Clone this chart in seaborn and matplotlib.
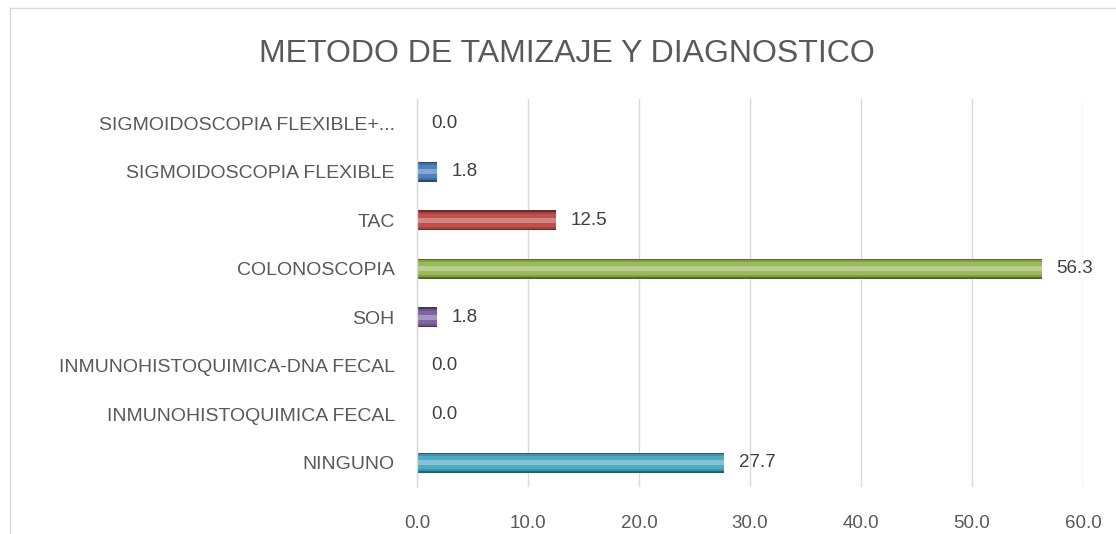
import matplotlib
matplotlib.use("Agg")
import matplotlib.pyplot as plt
import seaborn as sns
import pandas as pd
import numpy as np

categories = ["SIGMOIDOSCOPIA FLEXIBLE+...", "SIGMOIDOSCOPIA FLEXIBLE", "TAC", "COLONOSCOPIA",
              "SOH", "INMUNOHISTOQUIMICA-DNA FECAL", "INMUNOHISTOQUIMICA FECAL", "NINGUNO"]
values = [0.0, 1.8, 12.5, 56.3, 1.8, 0.0, 0.0, 27.7]
base_colors = ["#F79646", "#4F81BD", "#C0504D", "#9BBB59", "#8064A2", "#F79646", "#4BACC6", "#4BACC6"]
x_ticks = [0, 10, 20, 30, 40, 50, 60]

sns.set_theme(style="white")
plt.rcParams['font.family'] = ['Liberation Sans', 'DejaVu Sans']

df = pd.DataFrame({"cat": categories, "val": values})

def shade(c, f):
    rgb = np.array(matplotlib.colors.to_rgb(c))
    if f < 1:
        return tuple(rgb * f)
    return tuple(rgb + (1 - rgb) * (f - 1))

fig = plt.figure(figsize=(11.16, 5.34), dpi=100)
ax = fig.add_axes([417/1116, 1 - 487/534, (1083-417)/1116, (487-99)/534])

dark = [shade(c, 0.55) for c in base_colors]
mid = [shade(c, 0.85) for c in base_colors]
main = [shade(c, 1.0) for c in base_colors]
light = [shade(c, 1.3) for c in base_colors]

layers = [(dark, 0.42), (mid, 0.36), (main, 0.26), (light, 0.10)]
for pal, w in layers:
    sns.barplot(data=df, y="cat", x="val", hue="cat", palette=pal, width=w, legend=False, ax=ax,
                orient="h", saturation=1, linewidth=0, edgecolor="none")

ax.set_xlim(0, 60)
ax.set_xticks(x_ticks)
ax.set_xticklabels([f"{t:.1f}" for t in x_ticks], fontsize=13.5, color="#595959")
ax.tick_params(axis="x", length=0, pad=20)
ax.tick_params(axis="y", length=0, pad=16, labelsize=14, labelcolor="#595959")
ax.set_xlabel("")
ax.set_ylabel("")
ax.grid(axis="x", color="#D9D9D9", linewidth=1)
ax.set_axisbelow(True)
for s in ["top", "right", "bottom"]:
    ax.spines[s].set_visible(False)
ax.spines["left"].set_color("#D9D9D9")
ax.spines["left"].set_linewidth(1)

for i, v in enumerate(values):
    ax.text(v + 1.3, i, f"{v:.1f}", va="center", ha="left", fontsize=13.5, color="#404040")

fig.text(0.508, 1 - 54/534, "METODO DE TAMIZAJE Y DIAGNOSTICO", ha="center", va="center",
         fontsize=23, color="#595959")

border = plt.Rectangle((10/1116, -0.01), 1.02, 1 - 8/534 + 0.01, transform=fig.transFigure,
                       fill=False, edgecolor="#D9D9D9", linewidth=1)
fig.patches.append(border)

fig.savefig("out.png", dpi=100)
